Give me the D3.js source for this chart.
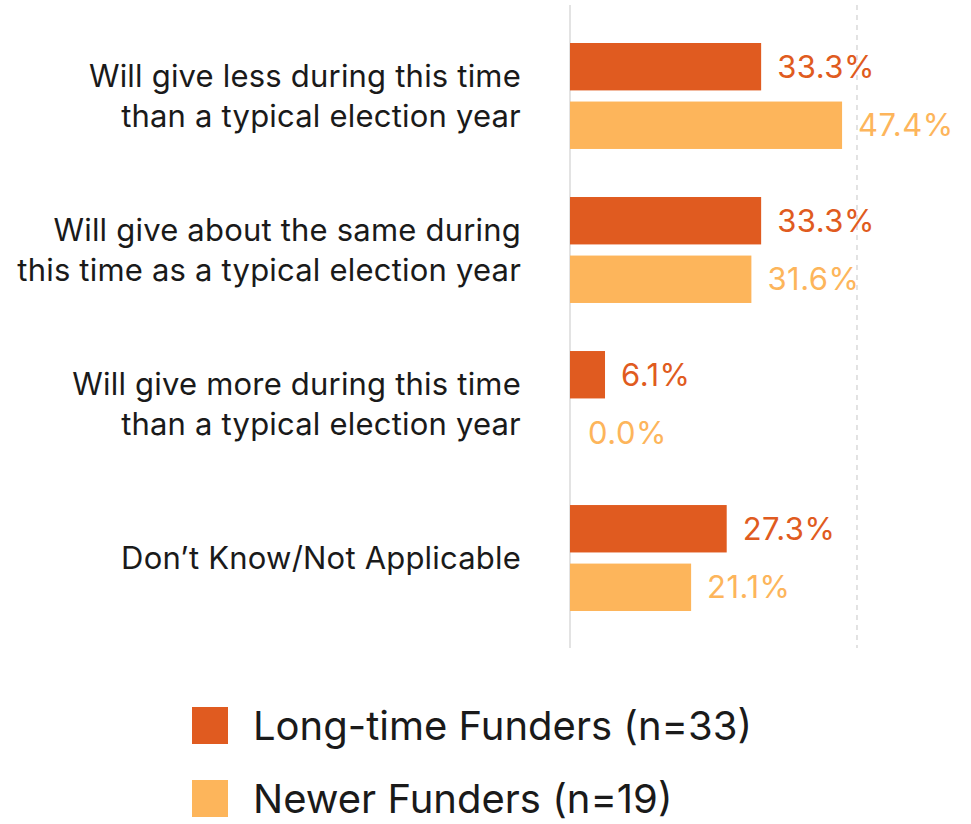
<!DOCTYPE html>
<html>
<head>
<meta charset="utf-8">
<script src="https://cdn.jsdelivr.net/npm/d3@7"></script>
<style>
  html, body { margin: 0; padding: 0; background: #fff; }
  svg { display: block; font-family: Inter, "Open Sans", sans-serif; }
</style>
</head>
<body>
<svg id="chart" width="971" height="824"></svg>
<script>
// Survey answers (two-line labels) and the share of each funder group
const categories = [
  ["Will give less during this time", "than a typical election year"],
  ["Will give about the same during", "this time as a typical election year"],
  ["Will give more during this time", "than a typical election year"],
  ["Don\u2019t Know/Not Applicable"]
];
const seriesNames = ["Long-time Funders (n=33)", "Newer Funders (n=19)"];
const longTime = [33.3, 33.3, 6.1, 27.3];
const newer = [47.4, 31.6, 0.0, 21.1];
const seriesColors = ["#E05B20", "#FDB55B"];

const svg = d3.select("#chart");
const catIdx = d3.range(categories.length);
const values = [longTime, newer];

const x = d3.scaleLinear().domain([0, 50]).range([570, 857]);
const y0 = d3.scaleBand().domain(catIdx).range([43, 611]).paddingInner(0.312).paddingOuter(0);
const y1 = d3.scaleBand().domain([0, 1]).range([0, y0.bandwidth()]).paddingInner(0.19);

// reference lines: baseline at 0 and dashed line at 50%
svg.append("line")
  .attr("x1", x(0)).attr("x2", x(0)).attr("y1", 5).attr("y2", 648)
  .attr("stroke", "#d0d0d0").attr("stroke-width", 1.2);
svg.append("line")
  .attr("x1", x(50)).attr("x2", x(50)).attr("y1", 5).attr("y2", 648)
  .attr("stroke", "#d0d0d0").attr("stroke-width", 1.2).attr("stroke-dasharray", "5,5");

const groups = svg.selectAll("g.cat").data(catIdx).join("g")
  .attr("class", "cat")
  .attr("transform", i => `translate(0,${y0(i)})`);

groups.selectAll("rect").data(i => values.map((v, s) => ({ s, v: v[i] }))).join("rect")
  .attr("x", x(0))
  .attr("y", d => y1(d.s))
  .attr("width", d => x(d.v) - x(0))
  .attr("height", y1.bandwidth())
  .attr("fill", d => seriesColors[d.s]);

groups.selectAll("text.val").data(i => values.map((v, s) => ({ s, v: v[i] }))).join("text")
  .attr("class", "val")
  .attr("x", d => x(d.v) + (d.v === 0 ? 18 : 16))
  .attr("y", d => y1(d.s) + y1.bandwidth() / 2)
  .attr("dy", "0.36em")
  .attr("font-size", 31)
  .attr("letter-spacing", 0.5)
  .attr("fill", d => seriesColors[d.s])
  .text(d => d.v.toFixed(1) + "%");

// category labels, right-aligned next to the baseline
groups.each(function (i) {
  const lines = categories[i];
  const lh = 40;
  const cy = y0.bandwidth() / 2;
  const t = d3.select(this).append("text")
    .attr("text-anchor", "end")
    .attr("font-size", 31)
    .attr("letter-spacing", 0.2)
    .attr("fill", "#1a1a1a");
  lines.forEach((ln, k) => {
    t.append("tspan")
      .attr("x", 521)
      .attr("y", cy + (k - (lines.length - 1) / 2) * lh)
      .attr("dy", "0.36em")
      .text(ln);
  });
});

// legend
const legend = svg.append("g").selectAll("g").data(seriesNames).join("g")
  .attr("transform", (d, i) => `translate(192,${707 + i * 73})`);
legend.append("rect").attr("width", 36).attr("height", 37)
  .attr("fill", (d, i) => seriesColors[i]);
legend.append("text")
  .attr("x", 61).attr("y", 18.5).attr("dy", "0.36em")
  .attr("font-size", 40).attr("fill", "#1a1a1a")
  .text(d => d);
</script>
</body>
</html>
